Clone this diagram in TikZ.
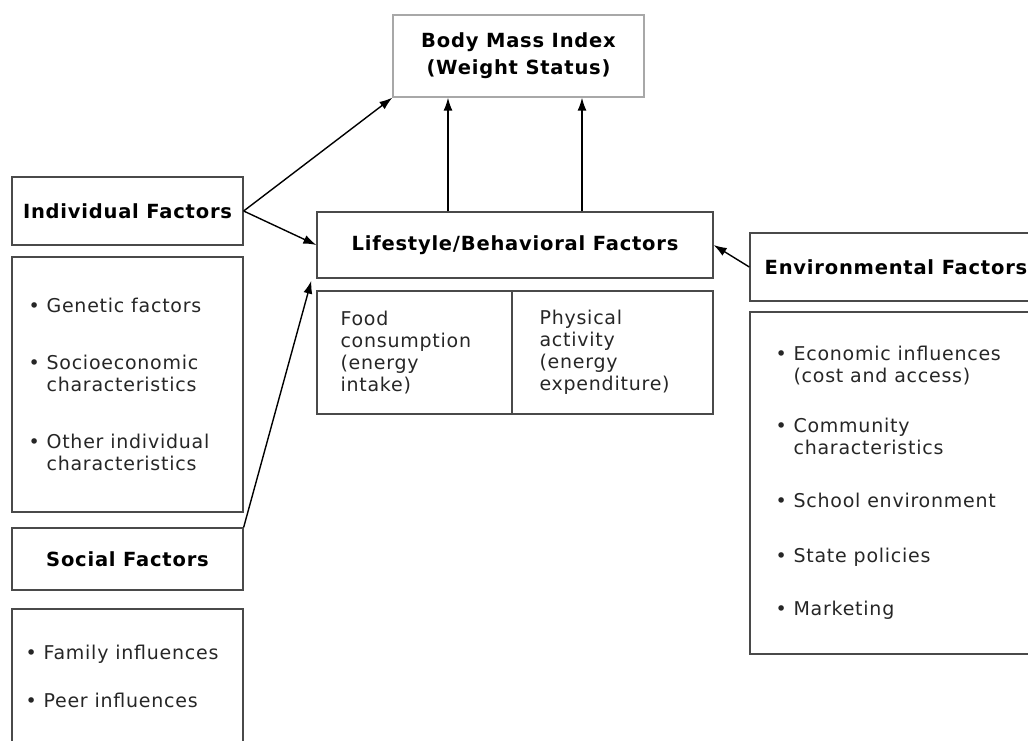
\documentclass[tikz,border=0pt]{standalone}
\usepackage{fontspec}
\setmainfont[LetterSpace=4]{DejaVu Sans}
\usetikzlibrary{arrows.meta}
\definecolor{edgegray}{HTML}{4A4A4A}
\definecolor{lightedge}{HTML}{A8A8A8}
\newcommand{\bitem}{\textbullet\ }
\newcommand{\bcont}{\phantom{\textbullet\ }}

\begin{document}
\begin{tikzpicture}[x=1pt, y=-1pt,
	box/.style={draw=edgegray, line width=1.3pt, inner sep=0pt},
	head/.style={box, font=\fontsize{19.5}{27}\selectfont\bfseries, align=center},
	txt/.style={inner sep=0pt, align=left, text=black!85, font=\fontsize{19}{22}\selectfont},
	arr/.style={-{Latex[length=13pt,width=9pt]}, line width=1.4pt}]
	\path[use as bounding box, clip] (0,0) rectangle (1028,740);
	% middle column
	\node[head, draw=lightedge, minimum width=251, minimum height=82] (bmi) at (518.5,56) {Body Mass Index\\(Weight Status)};
	\node[head, minimum width=396, minimum height=66] (life) at (515,245) {Lifestyle/Behavioral Factors};
	\node[box, minimum width=195, minimum height=123] (food) at (414.5,352.5) {};
	\node[box, minimum width=201, minimum height=123] (phys) at (612.5,352.5) {};
	\node[txt, anchor=west] (foodtxt) at ([xshift=24pt]food.west) {Food\\consumption\\(energy\\intake)};
	\node[txt, anchor=west] (phystxt) at ([xshift=28pt]phys.west) {Physical\\activity\\(energy\\expenditure)};
	% left column
	\node[head, minimum width=231, minimum height=68] (indiv) at (127.5,211) {Individual Factors};
	\node[box, minimum width=231, minimum height=255] (indivlist) at (127.5,384.5) {};
	\node[txt, anchor=west] (indivtxt) at ([xshift=17pt]indivlist.west) {\bitem Genetic factors\\[35pt]
		\bitem Socioeconomic\\\bcont characteristics\\[35pt]
		\bitem Other individual\\\bcont characteristics};
	\node[head, minimum width=231, minimum height=62] (social) at (127.5,559) {Social Factors};
	\node[box, minimum width=231, minimum height=134] (sociallist) at (127.5,676) {};
	\node[txt, anchor=west] (socialtxt) at ([xshift=14pt]sociallist.west) {\bitem Family influences\\[26pt]
		\bitem Peer influences};
	% right column
	\node[head, minimum width=292, minimum height=68] (env) at (896,267) {Environmental Factors};
	\node[box, minimum width=292, minimum height=342] (envlist) at (896,483) {};
	\node[txt, anchor=west] (envtxt) at ([xshift=26pt]envlist.west) {\bitem Economic influences\\\bcont (cost and access)\\[28pt]
		\bitem Community\\\bcont characteristics\\[31pt]
		\bitem School environment\\[33pt]
		\bitem State policies\\[31pt]
		\bitem Marketing};
	% arrows
	\draw[arr] (indiv.east) -- (bmi.south west);
	\draw[arr] (indiv.east) -- (life.west);
	\draw[arr] (social.north east) -- ([xshift=-5pt,yshift=-2pt]life.south west);
	\draw[arr] (env.west) -- (life.east);
	\draw[arr] ([xshift=-67pt]life.north) -- ([xshift=-70.5pt]bmi.south);
	\draw[arr] ([xshift=67pt]life.north) -- ([xshift=63.5pt]bmi.south);
\end{tikzpicture}
\end{document}
